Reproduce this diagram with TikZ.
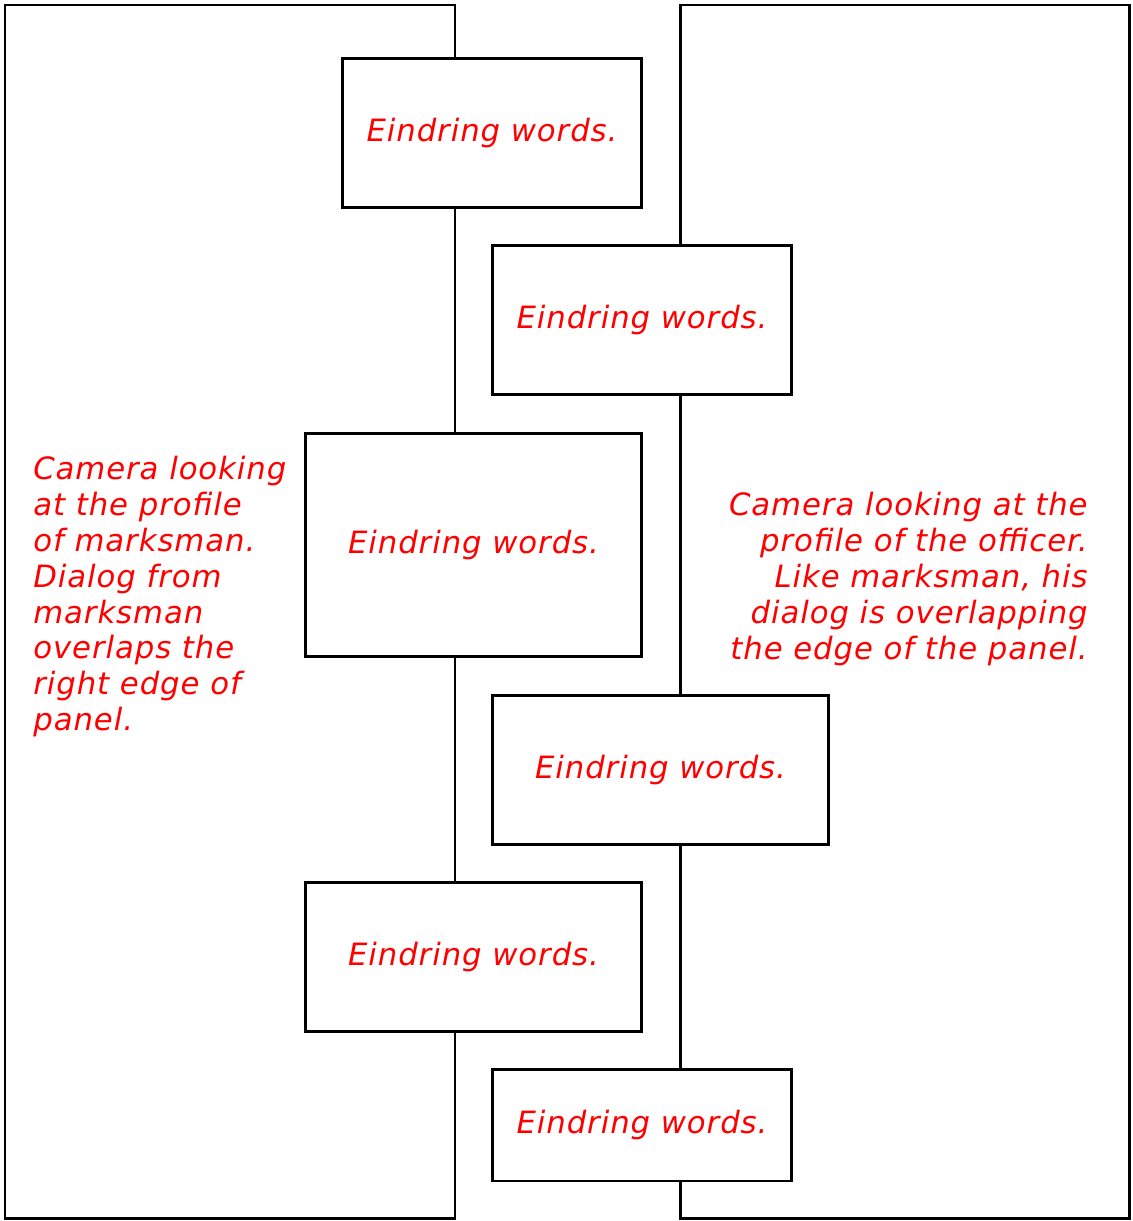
\documentclass[tikz,border=0pt]{standalone}
\usepackage{fontspec}
\setmainfont{DejaVu Sans}[LetterSpace=3]
\usetikzlibrary{positioning}

\tikzset{
  panel/.style={draw, line width=1.7pt},
  balloon/.style={draw, fill=white, line width=1.7pt, font=\itshape\fontsize{17.5}{20.4}\selectfont, text=red},
  note/.style={inner sep=0pt, text=red, font=\itshape\fontsize{17.5}{20.4}\selectfont}
}

\begin{document}
\begin{tikzpicture}[x=0.02cm, y=-0.02cm]
  \useasboundingbox (0,0) rectangle (1133,1221);
  % the two panels
  \draw[panel] (5,5) rectangle (455,1218);
  \draw[panel] (680,5) rectangle (1129,1218);

  % dialog boxes on the panel edges
  \node[balloon, minimum width=6cm, minimum height=3cm] (w1) at (492,133) {Eindring words.};
  \node[balloon, minimum width=6cm, minimum height=3cm] (w2) at (642,320) {Eindring words.};
  \node[balloon, minimum width=6.74cm, minimum height=4.48cm] (w3) at (473.5,545) {Eindring words.};
  \node[balloon, minimum width=6.74cm, minimum height=2.98cm] (w4) at (660.5,770) {Eindring words.};
  \node[balloon, minimum width=6.74cm, minimum height=2.98cm] (w5) at (473.5,957) {Eindring words.};
  \node[balloon, minimum width=6cm, minimum height=2.24cm] (w6) at (642,1125) {Eindring words.};

  % panel notes
  \node[note, align=left, anchor=north west] (marksman) at (33,456)
    {Camera looking\\at the profile\\of marksman.\\Dialog from\\marksman\\overlaps the\\right edge of\\panel.};
  \node[note, align=right, anchor=north east] (officer) at (1088,492)
    {Camera looking at the\\profile of the officer.\\Like marksman, his\\dialog is overlapping\\the edge of the panel.};
\end{tikzpicture}
\end{document}
